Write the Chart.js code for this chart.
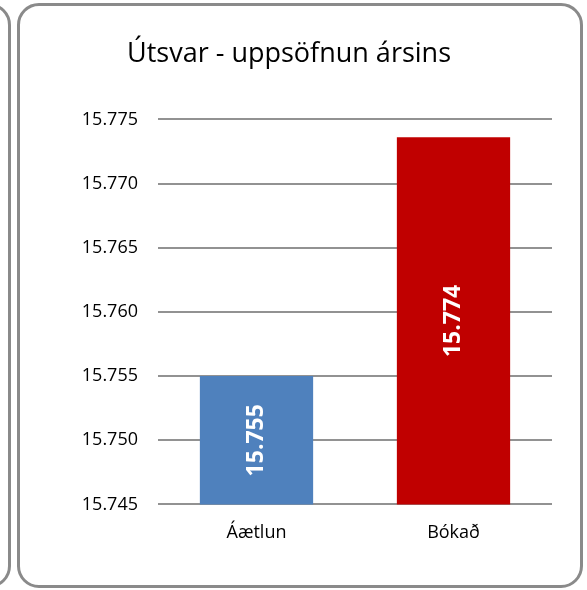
<!DOCTYPE html>
<html lang="is">
<head>
  <meta charset="UTF-8">
  <title>Útsvar - uppsöfnun ársins</title>
  <script src="https://cdn.jsdelivr.net/npm/chart.js"></script>
</head>
<style>
  body {
      margin: 0;
      width: 587px;
      height: 590px;
      overflow: hidden;
      position: relative;
      background: #fff;
      font-family: 'Open Sans', Arial, sans-serif;
  }

  .ramma {
      position: absolute;
      top: 3px;
      height: 585px;
      box-sizing: border-box;
      border: 3px solid #8a8a8a;
      border-radius: 22px;
      background: #fff;
  }

  #vinstri { left: -560px; width: 571px; }
  #adal { left: 17px; width: 566px; }

  canvas {
      position: absolute;
      left: 0;
      top: 0;
  }
</style>

<body>
  <div class="ramma" id="vinstri"></div>
  <div class="ramma" id="adal"></div>
  <canvas id="grafUtsvar" width="587" height="590"></canvas>

<script>

  const flokkar = ['Áætlun', 'Bókað'];
  const gildi = [15.755, 15.7736];
  const litir = ['#4f81bd', '#c00000'];
  const asMin = 15.745;
  const asMax = 15.775;
  const asSkref = 0.005;

  const letur = "'Open Sans', Arial, sans-serif";

  // gildin skrifuð lóðrétt inni í súlunum (grunnur súlunnar er utan ássins, því er neðri brún teiknisvæðis notuð)
  const gildiISulum = {
    id: 'gildiISulum',
    afterDatasetsDraw(chart) {
      const c = chart.ctx;
      const nedst = chart.chartArea.bottom;
      const meta = chart.getDatasetMeta(0);
      meta.data.forEach(function(sula, i) {
        const midja = (sula.y + Math.min(sula.base, nedst)) / 2;
        c.save();
        c.translate(sula.x, midja);
        c.rotate(-Math.PI / 2);
        c.fillStyle = '#ffffff';
        c.font = 'bold 23px ' + letur;
        c.textAlign = 'center';
        c.textBaseline = 'middle';
        c.fillText(gildi[i].toFixed(3), 0, 0);
        c.restore();
      });
    }
  };

  const ctx = document.getElementById('grafUtsvar').getContext('2d');

  new Chart(ctx, {
    type: 'bar',
    data: {
      labels: flokkar,
      datasets: [{
        data: gildi,
        backgroundColor: litir,
        borderWidth: 0,
        categoryPercentage: 1,
        barPercentage: 0.575
      }]
    },
    options: {
      responsive: false,
      animation: false,
      layout: {
        padding: { left: 26, right: 35, top: 38, bottom: 36 }
      },
      plugins: {
        legend: { display: false },
        tooltip: { enabled: false },
        title: {
          display: true,
          text: 'Útsvar - uppsöfnun ársins',
          color: '#000',
          font: { family: letur, size: 27, weight: 'normal' },
          padding: { top: 0, bottom: 49 }
        }
      },
      scales: {
        x: {
          grid: { display: false },
          border: { display: false },
          ticks: {
            color: '#000',
            padding: 10,
            font: { family: letur, size: 18 }
          }
        },
        y: {
          min: asMin,
          max: asMax,
          afterFit: function(as) { as.width = 132; },
          grid: { color: '#929292', lineWidth: 2, drawTicks: false },
          border: { display: false },
          ticks: {
            stepSize: asSkref,
            color: '#000',
            padding: 20,
            font: { family: letur, size: 18 },
            callback: function(v) { return v.toFixed(3); }
          }
        }
      }
    },
    plugins: [gildiISulum]
  });

</script>
</body>
</html>
